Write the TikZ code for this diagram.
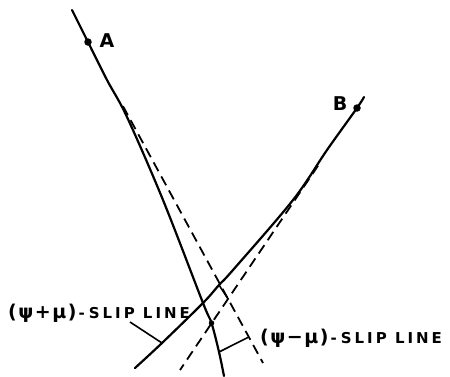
\documentclass[tikz,border=0pt]{standalone}
\usepackage{fontspec}
\setmainfont{DejaVu Sans}
\newfontfamily\grkfont[LetterSpace=8]{DejaVu Sans}
\newfontfamily\capfont[LetterSpace=20]{DejaVu Sans}
\usetikzlibrary{calc}
\newcommand{\sliptext}[1]{{\grkfont\bfseries\fontsize{19}{19}\selectfont(#1)}\hspace{2pt}{\bfseries\fontsize{15}{15}\selectfont -}\hspace{4pt}{\capfont\bfseries\fontsize{15}{15}\selectfont SLIP LINE}}
\begin{document}
\begin{tikzpicture}[x=1pt,y=-1pt,
  curve/.style={line width=2.2pt, line cap=round},
  tangent/.style={line width=1.8pt, dash pattern=on 10pt off 6pt},
  leader/.style={line width=1.6pt},
  dot/.style={circle, fill, inner sep=0pt, minimum size=7.5pt},
  smalldot/.style={circle, fill, inner sep=0pt, minimum size=5.5pt},
  ptlabel/.style={font=\fontsize{19}{19}\selectfont\bfseries, inner sep=0pt},
  sliplabel/.style={anchor=base west, inner sep=0pt}]
\useasboundingbox (0,0) rectangle (450,376);

% points A and B
\node[dot] (A) at (88,42) {};
\node[dot] (B) at (357,108) {};
\node[ptlabel] (LA) at (107,41) {A};
\node[ptlabel] (LB) at (340,104) {B};

% tangent end points
\coordinate (EA) at (263,363);
\coordinate (EB) at (180,370);
\coordinate (X) at (intersection of A--EA and B--EB);

% curve through A
\coordinate (A1) at (72,10);
\coordinate (Q) at (211.5,323);
\coordinate (PA) at (219,352);
\draw[curve] plot[smooth, tension=0.55] coordinates {(A1) (A) (107,80) (127,117) (163,200) (203,303) (Q) (PA) (224,376)};

% curve through B
\coordinate (B1) at (364,97);
\coordinate (PB) at (219,285);
\coordinate (PB2) at (162,343);
\draw[curve] plot[smooth, tension=0.55] coordinates {(B1) (B) (327,150) (293,200) (233,270) (PB) (203,303) (PB2) (135,368)};

% dashed tangents
\draw[tangent] ($(A)!0.2!(EA)$) -- (EA);
\draw[tangent] ($(B)!0.22!(EB)$) -- (EB);

% point where B tangent meets curve A
\node[smalldot] (Qd) at (Q) {};

% short segment
\draw[leader] (PB) -- (X);

% labels and leaders
\node[sliplabel] (L1) at (8,318) {\sliptext{ψ+μ}};
\coordinate (L1e) at (130,322);
\draw[leader] (L1e) -- (PB2);

\node[sliplabel] (L2) at (260,343) {\sliptext{ψ−μ}};
\coordinate (TA) at ($(A)!0.919!(EA)$);
\draw[leader] (PA) -- (TA);
\end{tikzpicture}
\end{document}
